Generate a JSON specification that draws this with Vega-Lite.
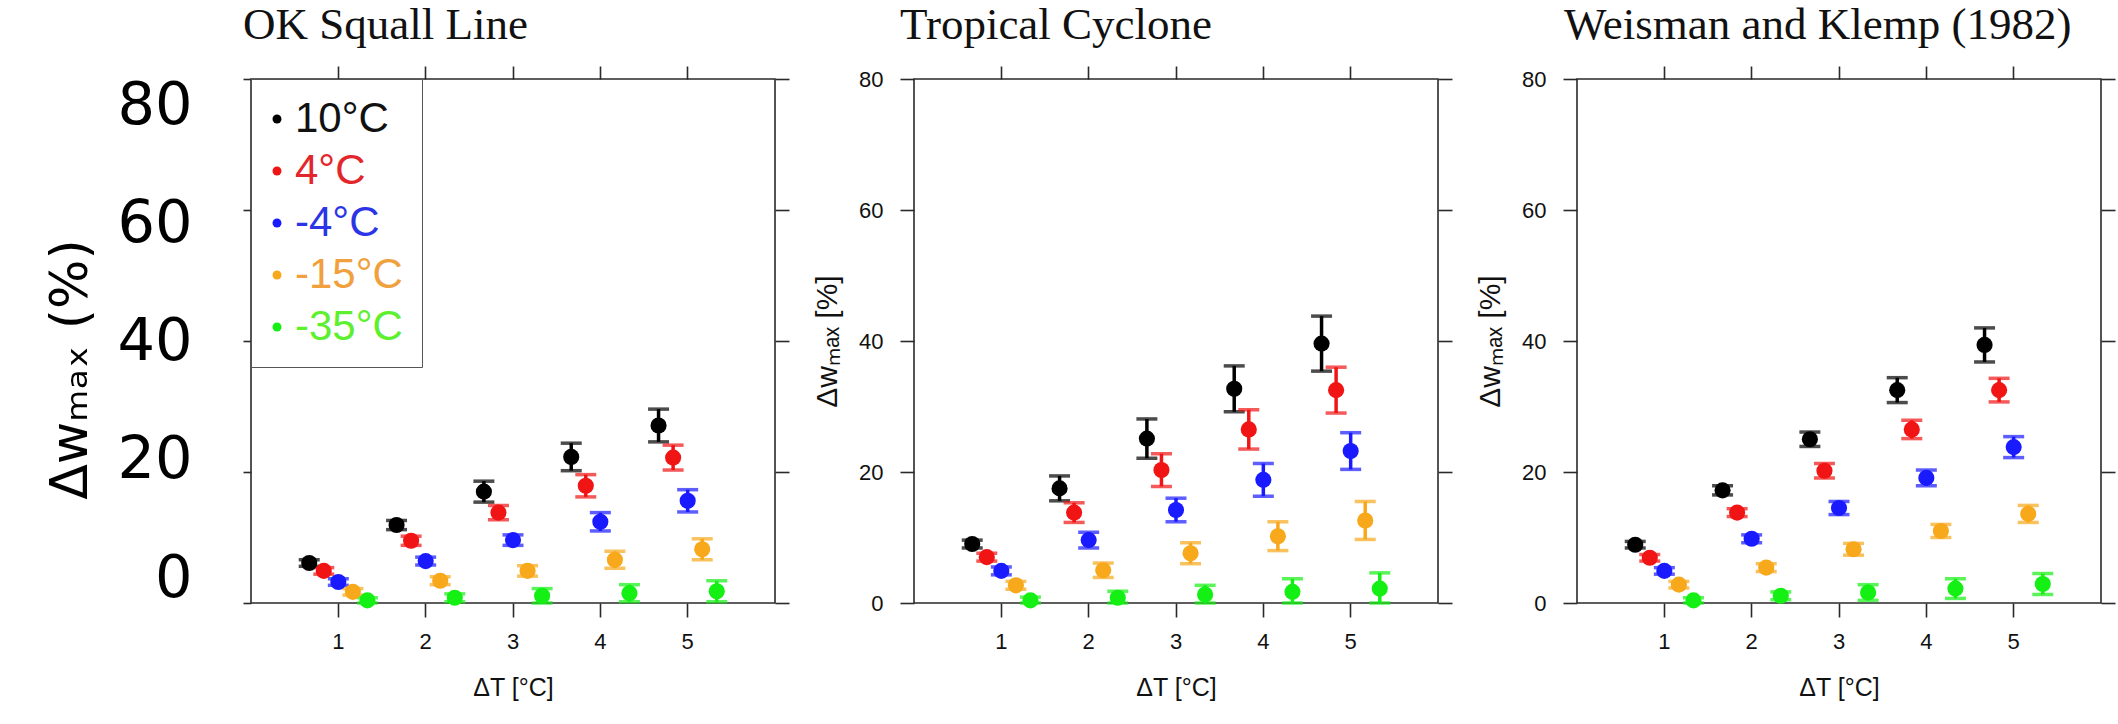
{
  "$schema": "https://vega.github.io/schema/vega-lite/v6.json",
  "background": "white",
  "padding": {"left": 43, "top": 2, "right": 0, "bottom": 0},
  "spacing": 139,
  "bounds": "flush",
  "datasets": {
    "ok": [
      {"dT":1,"series":"10°C","w":6.1,"lo":5.6,"hi":6.6},{"dT":1,"series":"4°C","w":4.9,"lo":4.4,"hi":5.4},{"dT":1,"series":"-4°C","w":3.2,"lo":2.7,"hi":3.7},{"dT":1,"series":"-15°C","w":1.7,"lo":1.2,"hi":2.2},{"dT":1,"series":"-35°C","w":0.4,"lo":0.0,"hi":0.8},
      {"dT":2,"series":"10°C","w":11.9,"lo":11.2,"hi":12.6},{"dT":2,"series":"4°C","w":9.5,"lo":8.8,"hi":10.2},{"dT":2,"series":"-4°C","w":6.4,"lo":5.8,"hi":7.0},{"dT":2,"series":"-15°C","w":3.4,"lo":2.8,"hi":4.0},{"dT":2,"series":"-35°C","w":0.8,"lo":0.2,"hi":1.4},
      {"dT":3,"series":"10°C","w":17.0,"lo":15.4,"hi":18.6},{"dT":3,"series":"4°C","w":13.8,"lo":12.7,"hi":14.9},{"dT":3,"series":"-4°C","w":9.6,"lo":8.8,"hi":10.4},{"dT":3,"series":"-15°C","w":4.9,"lo":4.1,"hi":5.7},{"dT":3,"series":"-35°C","w":1.1,"lo":0.0,"hi":2.2},
      {"dT":4,"series":"10°C","w":22.3,"lo":20.2,"hi":24.4},{"dT":4,"series":"4°C","w":17.9,"lo":16.2,"hi":19.6},{"dT":4,"series":"-4°C","w":12.4,"lo":11.0,"hi":13.8},{"dT":4,"series":"-15°C","w":6.6,"lo":5.3,"hi":7.9},{"dT":4,"series":"-35°C","w":1.5,"lo":0.2,"hi":2.8},
      {"dT":5,"series":"10°C","w":27.1,"lo":24.6,"hi":29.6},{"dT":5,"series":"4°C","w":22.2,"lo":20.3,"hi":24.1},{"dT":5,"series":"-4°C","w":15.6,"lo":13.9,"hi":17.3},{"dT":5,"series":"-15°C","w":8.2,"lo":6.6,"hi":9.8},{"dT":5,"series":"-35°C","w":1.8,"lo":0.2,"hi":3.4}
    ],
    "tc": [
      {"dT":1,"series":"10°C","w":9.0,"lo":8.4,"hi":9.6},{"dT":1,"series":"4°C","w":7.0,"lo":6.4,"hi":7.6},{"dT":1,"series":"-4°C","w":4.9,"lo":4.3,"hi":5.5},{"dT":1,"series":"-15°C","w":2.7,"lo":2.1,"hi":3.3},{"dT":1,"series":"-35°C","w":0.4,"lo":0.0,"hi":0.9},
      {"dT":2,"series":"10°C","w":17.5,"lo":15.6,"hi":19.4},{"dT":2,"series":"4°C","w":13.8,"lo":12.3,"hi":15.3},{"dT":2,"series":"-4°C","w":9.6,"lo":8.4,"hi":10.8},{"dT":2,"series":"-15°C","w":5.0,"lo":3.9,"hi":6.1},{"dT":2,"series":"-35°C","w":0.8,"lo":0.0,"hi":1.8},
      {"dT":3,"series":"10°C","w":25.1,"lo":22.1,"hi":28.1},{"dT":3,"series":"4°C","w":20.3,"lo":17.8,"hi":22.8},{"dT":3,"series":"-4°C","w":14.2,"lo":12.4,"hi":16.0},{"dT":3,"series":"-15°C","w":7.6,"lo":6.0,"hi":9.2},{"dT":3,"series":"-35°C","w":1.3,"lo":0.0,"hi":2.7},
      {"dT":4,"series":"10°C","w":32.7,"lo":29.2,"hi":36.2},{"dT":4,"series":"4°C","w":26.5,"lo":23.5,"hi":29.5},{"dT":4,"series":"-4°C","w":18.8,"lo":16.3,"hi":21.3},{"dT":4,"series":"-15°C","w":10.2,"lo":8.0,"hi":12.4},{"dT":4,"series":"-35°C","w":1.7,"lo":0.0,"hi":3.7},
      {"dT":5,"series":"10°C","w":39.6,"lo":35.4,"hi":43.8},{"dT":5,"series":"4°C","w":32.5,"lo":29.0,"hi":36.0},{"dT":5,"series":"-4°C","w":23.2,"lo":20.4,"hi":26.0},{"dT":5,"series":"-15°C","w":12.6,"lo":9.7,"hi":15.5},{"dT":5,"series":"-35°C","w":2.2,"lo":0.0,"hi":4.6}
    ],
    "wk": [
      {"dT":1,"series":"10°C","w":8.9,"lo":8.4,"hi":9.4},{"dT":1,"series":"4°C","w":6.9,"lo":6.4,"hi":7.4},{"dT":1,"series":"-4°C","w":4.9,"lo":4.4,"hi":5.4},{"dT":1,"series":"-15°C","w":2.8,"lo":2.3,"hi":3.3},{"dT":1,"series":"-35°C","w":0.4,"lo":0.0,"hi":0.8},
      {"dT":2,"series":"10°C","w":17.2,"lo":16.5,"hi":17.9},{"dT":2,"series":"4°C","w":13.8,"lo":13.2,"hi":14.4},{"dT":2,"series":"-4°C","w":9.8,"lo":9.2,"hi":10.4},{"dT":2,"series":"-15°C","w":5.4,"lo":4.8,"hi":6.0},{"dT":2,"series":"-35°C","w":1.1,"lo":0.5,"hi":1.7},
      {"dT":3,"series":"10°C","w":25.0,"lo":23.9,"hi":26.1},{"dT":3,"series":"4°C","w":20.2,"lo":19.1,"hi":21.3},{"dT":3,"series":"-4°C","w":14.5,"lo":13.5,"hi":15.5},{"dT":3,"series":"-15°C","w":8.2,"lo":7.3,"hi":9.1},{"dT":3,"series":"-35°C","w":1.6,"lo":0.4,"hi":2.8},
      {"dT":4,"series":"10°C","w":32.5,"lo":30.6,"hi":34.4},{"dT":4,"series":"4°C","w":26.5,"lo":25.1,"hi":27.9},{"dT":4,"series":"-4°C","w":19.1,"lo":17.9,"hi":20.3},{"dT":4,"series":"-15°C","w":11.0,"lo":10.0,"hi":12.0},{"dT":4,"series":"-35°C","w":2.2,"lo":0.7,"hi":3.7},
      {"dT":5,"series":"10°C","w":39.4,"lo":36.8,"hi":42.0},{"dT":5,"series":"4°C","w":32.5,"lo":30.7,"hi":34.3},{"dT":5,"series":"-4°C","w":23.8,"lo":22.2,"hi":25.4},{"dT":5,"series":"-15°C","w":13.6,"lo":12.3,"hi":14.9},{"dT":5,"series":"-35°C","w":2.9,"lo":1.3,"hi":4.5}
    ]
  },
  "resolve": {"scale": {"color": "independent"}, "legend": {"color": "independent"}},
  "hconcat": [
    {
      "width": 524, "height": 524,
      "data": {"name": "ok"},
      "title": {"text": "OK Squall Line", "anchor": "start", "frame": "group", "dx": -8, "offset": -19, "baseline": "alphabetic", "font": "Liberation Serif", "fontSize": 45, "fontWeight": "normal", "color": "#111111"},
      "encoding": {
        "xOffset": {"field": "series", "type": "nominal", "scale": {"type": "point", "padding": 2, "domain": ["10°C","4°C","-4°C","-15°C","-35°C"]}},
        "color": {"field": "series", "type": "nominal",
          "scale": {"domain": ["10°C","4°C","-4°C","-15°C","-35°C"], "range": ["#000000","#f01414","#1a1aff","#f7a81b","#14f014"]},
          "legend": {"orient": "top-left", "offset": 0, "title": null, "padding": 19, "strokeColor": "#555555", "fillColor": "white",
            "labelFont": "Liberation Sans", "labelFontSize": 42, "labelOffset": -3, "symbolOffset": -14, "labelLimit": 400, "symbolType": "circle", "symbolSize": 80, "symbolStrokeWidth": 0, "rowPadding": 10,
            "encode": {
              "labels": {"update": {"fill": {"signal": "datum.value === '10°C' ? '#111111' : datum.value === '4°C' ? '#e3262b' : datum.value === '-4°C' ? '#2b35e6' : datum.value === '-15°C' ? '#f0a03c' : '#5ef02f'"}}},
              "symbols": {"update": {"size": {"value": 80}, "fill": {"signal": "datum.value === '10°C' ? '#111111' : datum.value === '4°C' ? '#e3262b' : datum.value === '-4°C' ? '#2b35e6' : datum.value === '-15°C' ? '#f0a03c' : '#5ef02f'"}, "stroke": {"value": "transparent"}}}
            }}}
      },
      "resolve": {"axis": {"x": "independent", "y": "independent"}},
      "layer": [
        {"mark": {"type": "rule", "strokeWidth": 3.5},
         "encoding": {
           "x": {"field": "dT", "type": "ordinal", "scale": {"type": "band", "domain": [1,2,3,4,5], "paddingInner": 0, "paddingOuter": 0.5},
                 "axis": {"orient": "bottom", "title": "ΔT [°C]", "labelAngle": 0, "labelFontSize": 22, "labelPadding": 14, "tickSize": 14, "titleFontSize": 25, "titlePadding": 23}},
           "y": {"field": "lo", "type": "quantitative", "scale": {"domain": [0, 80], "nice": false, "zero": true},
                 "axis": {"orient": "left", "values": [0,20,40,60,80], "tickSize": 8, "labelFont": "DejaVu Sans", "labelFontSize": 59, "labelPadding": 51, "labelColor": "#000000",
                          "labelOffset": {"expr": "-25 + 0.6375*datum.value"},
                          "title": "Δwₘₐₓ (%)", "titleFont": "DejaVu Sans", "titleFontSize": 52, "titleColor": "#000000", "titleX": -165, "titleY": 290, "titleAlign": "center", "titleBaseline": "alphabetic", "titleAngle": 270}},
           "y2": {"field": "hi"}
         }},
        {"mark": {"type": "tick", "orient": "horizontal", "size": 21, "thickness": 3.5},
         "encoding": {
           "x": {"field": "dT", "type": "ordinal", "axis": {"orient": "top", "labels": false, "title": null, "tickSize": 13}},
           "y": {"field": "lo", "type": "quantitative", "axis": {"orient": "right", "values": [0,20,40,60,80], "labels": false, "title": null, "tickSize": 14}}
         }},
        {"mark": {"type": "tick", "orient": "horizontal", "size": 21, "thickness": 3.5},
         "encoding": {
           "x": {"field": "dT", "type": "ordinal", "axis": null},
           "y": {"field": "hi", "type": "quantitative", "axis": null}
         }},
        {"mark": {"type": "point", "filled": true, "size": 260, "opacity": 1},
         "encoding": {
           "x": {"field": "dT", "type": "ordinal", "axis": null},
           "y": {"field": "w", "type": "quantitative", "axis": null}
         }}
      ]
    },
    {
      "width": 524, "height": 524,
      "data": {"name": "tc"},
      "title": {"text": "Tropical Cyclone", "anchor": "start", "frame": "group", "dx": -14, "offset": -19, "baseline": "alphabetic", "font": "Liberation Serif", "fontSize": 45, "fontWeight": "normal", "color": "#111111"},
      "encoding": {
        "xOffset": {"field": "series", "type": "nominal", "scale": {"type": "point", "padding": 2, "domain": ["10°C","4°C","-4°C","-15°C","-35°C"]}},
        "color": {"field": "series", "type": "nominal",
          "scale": {"domain": ["10°C","4°C","-4°C","-15°C","-35°C"], "range": ["#000000","#f01414","#1a1aff","#f7a81b","#14f014"]},
          "legend": null}
      },
      "resolve": {"axis": {"x": "independent", "y": "independent"}},
      "layer": [
        {"mark": {"type": "rule", "strokeWidth": 3.5},
         "encoding": {
           "x": {"field": "dT", "type": "ordinal", "scale": {"type": "band", "domain": [1,2,3,4,5], "paddingInner": 0, "paddingOuter": 0.5},
                 "axis": {"orient": "bottom", "title": "ΔT [°C]", "labelAngle": 0, "labelFontSize": 22, "labelPadding": 14, "tickSize": 14, "titleFontSize": 25, "titlePadding": 23}},
           "y": {"field": "lo", "type": "quantitative", "scale": {"domain": [0, 80], "nice": false, "zero": true},
                 "axis": {"orient": "left", "values": [0,20,40,60,80], "tickSize": 14, "labelFontSize": 22, "labelPadding": 17,
                          "title": "Δwₘₐₓ [%]", "titleFontSize": 30, "titleX": -78, "titleY": 262, "titleAlign": "center", "titleBaseline": "alphabetic", "titleAngle": 270}},
           "y2": {"field": "hi"}
         }},
        {"mark": {"type": "tick", "orient": "horizontal", "size": 21, "thickness": 3.5},
         "encoding": {
           "x": {"field": "dT", "type": "ordinal", "axis": {"orient": "top", "labels": false, "title": null, "tickSize": 13}},
           "y": {"field": "lo", "type": "quantitative", "axis": {"orient": "right", "values": [0,20,40,60,80], "labels": false, "title": null, "tickSize": 14}}
         }},
        {"mark": {"type": "tick", "orient": "horizontal", "size": 21, "thickness": 3.5},
         "encoding": {
           "x": {"field": "dT", "type": "ordinal", "axis": null},
           "y": {"field": "hi", "type": "quantitative", "axis": null}
         }},
        {"mark": {"type": "point", "filled": true, "size": 260, "opacity": 1},
         "encoding": {
           "x": {"field": "dT", "type": "ordinal", "axis": null},
           "y": {"field": "w", "type": "quantitative", "axis": null}
         }}
      ]
    },
    {
      "width": 524, "height": 524,
      "data": {"name": "wk"},
      "title": {"text": "Weisman and Klemp (1982)", "anchor": "start", "frame": "group", "dx": -13, "offset": -19, "baseline": "alphabetic", "font": "Liberation Serif", "fontSize": 45, "fontWeight": "normal", "color": "#111111"},
      "encoding": {
        "xOffset": {"field": "series", "type": "nominal", "scale": {"type": "point", "padding": 2, "domain": ["10°C","4°C","-4°C","-15°C","-35°C"]}},
        "color": {"field": "series", "type": "nominal",
          "scale": {"domain": ["10°C","4°C","-4°C","-15°C","-35°C"], "range": ["#000000","#f01414","#1a1aff","#f7a81b","#14f014"]},
          "legend": null}
      },
      "resolve": {"axis": {"x": "independent", "y": "independent"}},
      "layer": [
        {"mark": {"type": "rule", "strokeWidth": 3.5},
         "encoding": {
           "x": {"field": "dT", "type": "ordinal", "scale": {"type": "band", "domain": [1,2,3,4,5], "paddingInner": 0, "paddingOuter": 0.5},
                 "axis": {"orient": "bottom", "title": "ΔT [°C]", "labelAngle": 0, "labelFontSize": 22, "labelPadding": 14, "tickSize": 14, "titleFontSize": 25, "titlePadding": 23}},
           "y": {"field": "lo", "type": "quantitative", "scale": {"domain": [0, 80], "nice": false, "zero": true},
                 "axis": {"orient": "left", "values": [0,20,40,60,80], "tickSize": 14, "labelFontSize": 22, "labelPadding": 17,
                          "title": "Δwₘₐₓ [%]", "titleFontSize": 30, "titleX": -78, "titleY": 262, "titleAlign": "center", "titleBaseline": "alphabetic", "titleAngle": 270}},
           "y2": {"field": "hi"}
         }},
        {"mark": {"type": "tick", "orient": "horizontal", "size": 21, "thickness": 3.5},
         "encoding": {
           "x": {"field": "dT", "type": "ordinal", "axis": {"orient": "top", "labels": false, "title": null, "tickSize": 13}},
           "y": {"field": "lo", "type": "quantitative", "axis": {"orient": "right", "values": [0,20,40,60,80], "labels": false, "title": null, "tickSize": 14}}
         }},
        {"mark": {"type": "tick", "orient": "horizontal", "size": 21, "thickness": 3.5},
         "encoding": {
           "x": {"field": "dT", "type": "ordinal", "axis": null},
           "y": {"field": "hi", "type": "quantitative", "axis": null}
         }},
        {"mark": {"type": "point", "filled": true, "size": 260, "opacity": 1},
         "encoding": {
           "x": {"field": "dT", "type": "ordinal", "axis": null},
           "y": {"field": "w", "type": "quantitative", "axis": null}
         }}
      ]
    }
  ],
  "config": {
    "view": {"stroke": "#2a2a2a", "strokeWidth": 1.6},
    "axis": {"grid": false, "domain": false, "tickColor": "#2a2a2a", "tickWidth": 1.6, "labelColor": "#111111", "titleColor": "#111111", "labelFont": "Liberation Sans", "titleFont": "Liberation Sans", "titleFontWeight": "normal", "bandPosition": 0.5}
  }
}
